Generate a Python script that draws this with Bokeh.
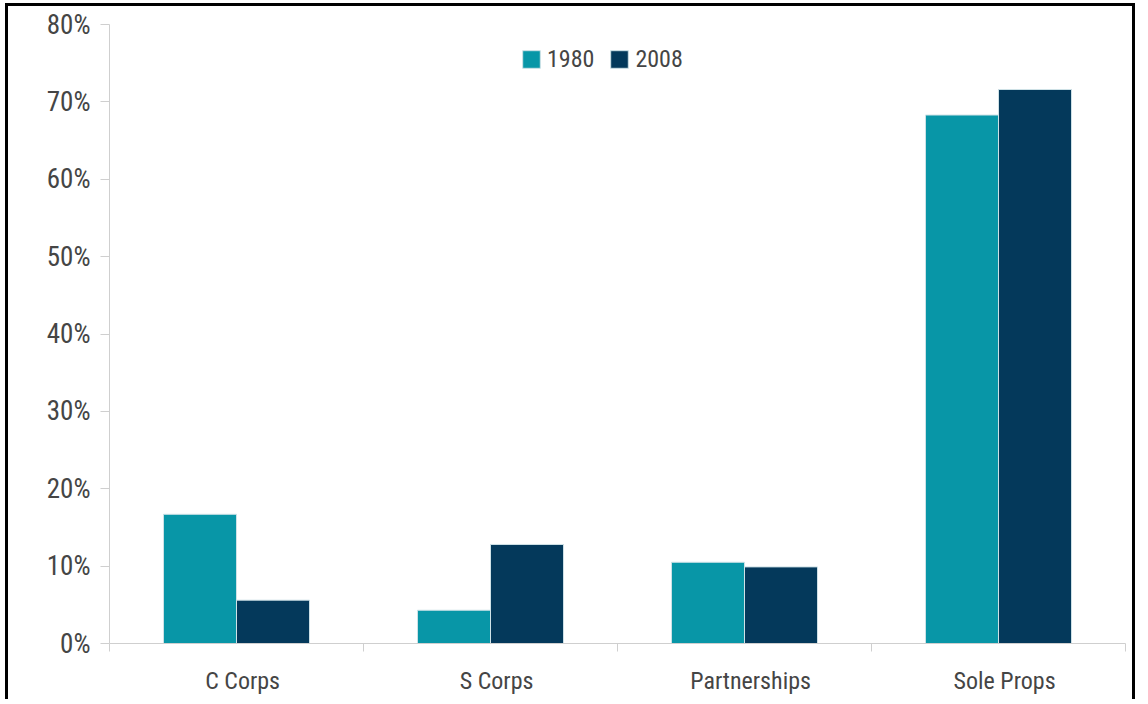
from bokeh.plotting import figure
from bokeh.models import Range1d, FixedTicker, PrintfTickFormatter, Legend, LegendItem
from bokeh.embed import file_html
from bokeh.resources import INLINE

categories = ["C Corps", "S Corps", "Partnerships", "Sole Props"]
series_names = ["1980", "2008"]
values_1980 = [16.7, 4.3, 10.5, 68.3]
values_2008 = [5.6, 12.8, 9.9, 71.6]
y_ticks = [0, 10, 20, 30, 40, 50, 60, 70, 80]

colors = ["#0896a7", "#04395b"]
FONT = "'Roboto Condensed', 'DejaVu Sans Condensed', sans-serif"
TXT = "#454545"
AX = "#cfcfcf"

W, H = 1130, 696
p = figure(width=W, height=H, output_backend="svg", toolbar_location=None,
           x_range=Range1d(0, len(categories)), y_range=Range1d(0, 80),
           min_border_left=101, min_border_right=13, min_border_top=18, min_border_bottom=59)
p.styles = {"border-left": "3px solid black", "border-top": "3px solid black",
            "border-right": "3px solid black", "margin-left": "5px", "margin-top": "3px"}
p.outline_line_color = None
p.xgrid.visible = False
p.ygrid.visible = False
p.background_fill_color = "white"
p.border_fill_color = "white"

bw = 0.2875
centers = [i + 0.5 for i in range(len(categories))]
x1 = [c - bw / 2 for c in centers]
x2 = [c + bw / 2 for c in centers]
r1 = p.vbar(x=x1, top=values_1980, width=bw, fill_color=colors[0], line_color="#cfe2e7", line_width=1)
r2 = p.vbar(x=x2, top=values_2008, width=bw, fill_color=colors[1], line_color="#cfe2e7", line_width=1)

# x axis: labels near category centres, ticks at category boundaries
label_pos = [c + 0.024 for c in centers]
xa = p.xaxis[0]
xa.ticker = FixedTicker(ticks=label_pos, minor_ticks=list(range(len(categories) + 1)))
xa.major_label_overrides = {c: name for c, name in zip(label_pos, categories)}
xa.major_tick_out = 0
xa.major_tick_in = 0
xa.minor_tick_out = 8
xa.minor_tick_in = 0
xa.minor_tick_line_color = AX
xa.axis_line_color = AX
xa.major_label_text_font = FONT
xa.major_label_text_font_size = "24px"
xa.major_label_text_color = TXT
xa.major_label_standoff = 15

ya = p.yaxis[0]
ya.ticker = FixedTicker(ticks=y_ticks, minor_ticks=[])
ya.formatter = PrintfTickFormatter(format="%d%%")
ya.major_tick_out = 9
ya.major_tick_in = 0
ya.major_tick_line_color = AX
ya.axis_line_color = AX
ya.minor_tick_line_color = None
ya.major_label_text_font = FONT
ya.major_label_text_font_size = "27px"
ya.major_label_text_color = TXT
ya.major_label_standoff = 10

legend = Legend(items=[LegendItem(label=series_names[0], renderers=[r1]),
                       LegendItem(label=series_names[1], renderers=[r2])],
                orientation="horizontal", location=(411, 570))
legend.label_text_font = FONT
legend.label_text_font_size = "24px"
legend.label_text_color = TXT
legend.glyph_width = 22
legend.glyph_height = 22
legend.label_standoff = 5
legend.spacing = 14
legend.padding = 0
legend.margin = 0
legend.border_line_color = None
legend.background_fill_alpha = 0
p.add_layout(legend, "center")

open("out.html", "w").write(file_html(p, INLINE))
